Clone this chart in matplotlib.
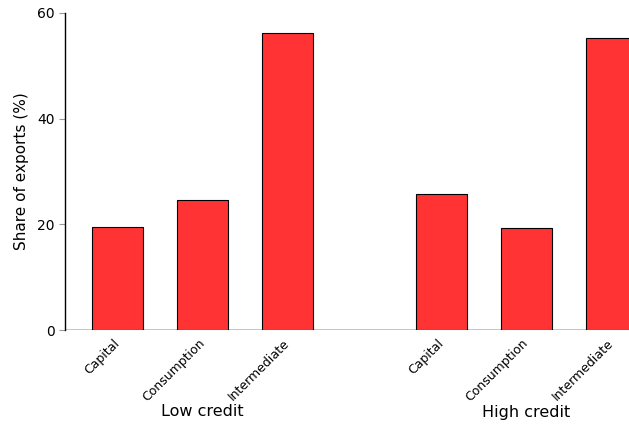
import matplotlib
matplotlib.use("Agg")
import matplotlib.pyplot as plt
from matplotlib.transforms import blended_transform_factory

categories = ["Capital", "Consumption", "Intermediate"]
groups = ["Low credit", "High credit"]
low_credit = [19.5, 24.6, 56.2]
high_credit = [25.7, 19.3, 55.3]
group_offset = 3.81

fig = plt.figure(figsize=(6.29, 4.24), dpi=100)
ax = fig.add_axes([65/629, 94/424, (7.118*85)/629, 317/424])

pos_low = [i for i in range(len(categories))]
pos_high = [i + group_offset for i in range(len(categories))]
color = "#FF3333"
ax.bar(pos_low, low_credit, width=0.6, color=color, edgecolor="black", linewidth=0.8, zorder=3)
ax.bar(pos_high, high_credit, width=0.6, color=color, edgecolor="black", linewidth=0.8, zorder=3)
ax.axhline(0, color="#bbbbbb", linewidth=1.2, zorder=2)

ax.set_xlim(-0.618, 6.5)
ax.set_ylim(0, 60)
ax.set_yticks([0, 20, 40, 60])
ax.set_xticks(pos_low + pos_high)
ax.set_xticklabels(categories + categories, rotation=45, ha="right", va="center",
                   rotation_mode="anchor", fontsize=9)
ax.tick_params(axis="x", length=0, pad=8)
ax.tick_params(axis="y", length=4, color="#999999", labelsize=10)
for s in ["top", "right", "bottom"]:
    ax.spines[s].set_visible(False)
ax.spines["left"].set_linewidth(1.0)
ax.set_ylabel("Share of exports (%)", fontsize=11, labelpad=6)

trans = blended_transform_factory(ax.transData, fig.transFigure)
ax.text(pos_low[1], 12/424, groups[0], transform=trans, ha="center", va="center", fontsize=11.5)
ax.text(pos_high[1], 12/424, groups[1], transform=trans, ha="center", va="center", fontsize=11.5)

fig.savefig("out.png", dpi=100)
